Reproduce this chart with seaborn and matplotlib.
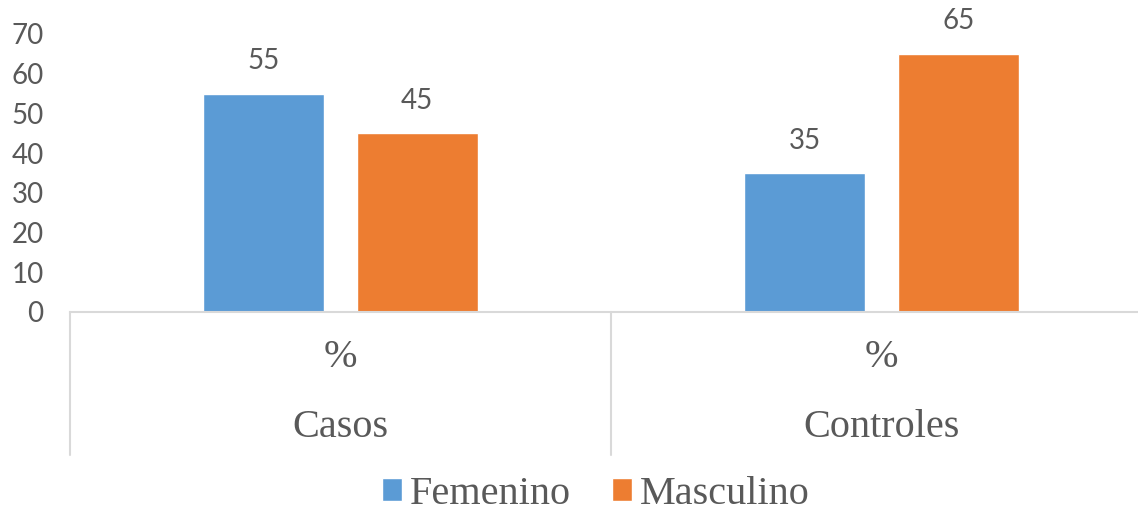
import pandas as pd
import seaborn as sns
import matplotlib.pyplot as plt
from matplotlib.patches import Patch

# --- dados ---
grupos = ['Casos', 'Controles']
sexos = ['Femenino', 'Masculino']
femenino = [55, 35]
masculino = [45, 65]
cores = ['#5B9BD5', '#ED7D31']
subrotulo = '%'
yticks = [0, 10, 20, 30, 40, 50, 60, 70]

df = pd.DataFrame({
    'grupo': grupos * 2,
    'sexo': [sexos[0]] * 2 + [sexos[1]] * 2,
    'valor': femenino + masculino,
})

sns.set_style('white')
cinza = '#595959'
linha = '#D9D9D9'

fig = plt.figure(figsize=(11.38, 5.15), dpi=100)
ax = fig.add_axes([70 / 1138, 203 / 515, 1082 / 1138, 278 / 515])

sns.barplot(data=df, x='grupo', y='valor', hue='sexo', palette=cores,
            saturation=1, width=0.567, gap=0.212, legend=False, ax=ax)

for c in ax.containers:
    ax.bar_label(c, padding=14, color=cinza, fontsize=20, family='Lato')

ax.set_ylim(0, 70)
ax.set_xlim(-0.5, 1.5)
ax.set_yticks(yticks)
ax.set_yticklabels([str(t) for t in yticks], color=cinza, fontsize=20, family='Lato')
ax.tick_params(axis='y', length=0, pad=19)
ax.set_xticks([])
ax.set_xlabel('')
ax.set_ylabel('')

for s in ['top', 'right', 'left']:
    ax.spines[s].set_visible(False)
ax.spines['bottom'].set_color(linha)
ax.spines['bottom'].set_linewidth(1.5)

# eixo de categorias em dois niveis
trans = ax.get_xaxis_transform()
for xs in [-0.5, 0.5, 1.5]:
    ax.plot([xs, xs], [0, -0.514], transform=trans, color=linha, lw=1.5, clip_on=False)
for i, g in enumerate(grupos):
    ax.text(i, -0.165, subrotulo, transform=trans, ha='center', va='center',
            fontsize=29, family='Liberation Serif', color=cinza)
    ax.text(i, -0.417, g, transform=trans, ha='center', va='center',
            fontsize=29, family='Liberation Serif', color=cinza)

handles = [Patch(facecolor=cores[i], label=sexos[i]) for i in range(2)]
fig.legend(handles=handles, loc='center', bbox_to_anchor=(596 / 1138, 1 - 494 / 515), ncol=2,
           frameon=False, prop={'family': 'Liberation Serif', 'size': 29},
           labelcolor=cinza, handlelength=0.5, handleheight=0.5,
           handletextpad=0.2, columnspacing=1.0, borderpad=0.1)

plt.savefig('out.png', dpi=100)
